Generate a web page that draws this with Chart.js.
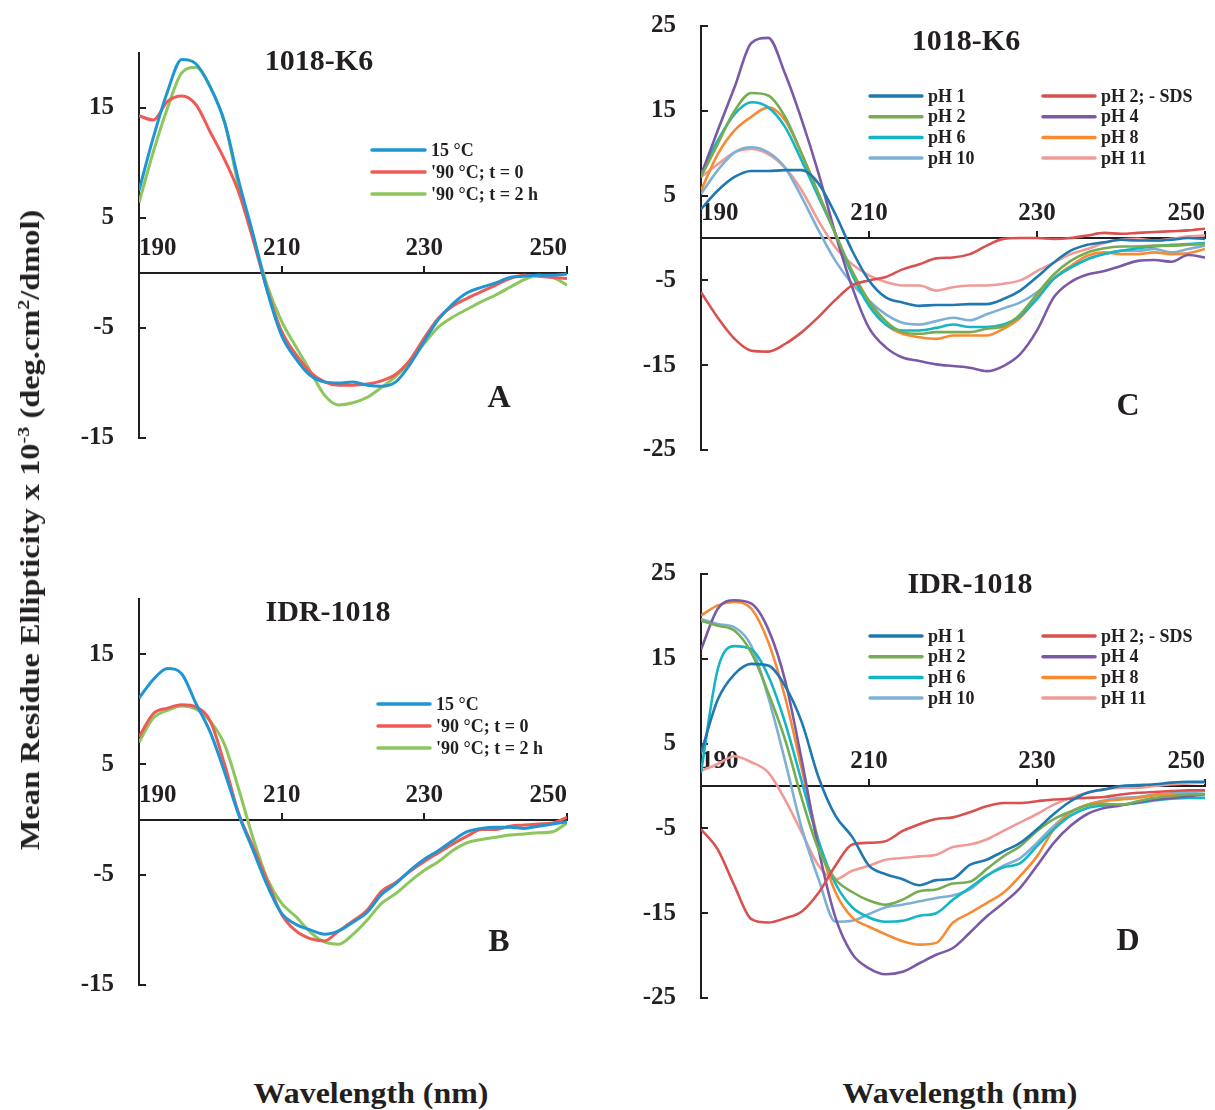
<!DOCTYPE html>
<html>
<head>
<meta charset="utf-8">
<script src="https://cdn.jsdelivr.net/npm/chart.js@4.4.1/dist/chart.umd.min.js"></script>
<style>
  body { margin: 0; background: #fff; width: 1215px; height: 1110px; position: relative; overflow: hidden; }
  canvas { position: absolute; }
  .lbl { position: absolute; font-family: "Liberation Serif", "Times New Roman", serif; font-weight: bold; color: #231f20; white-space: nowrap; }
  .lbl sup { font-size: 0.62em; }
</style>
</head>
<body>
<canvas id="panelA" width="560" height="440" style="left:40px; top:20px;"></canvas>
<canvas id="panelB" width="560" height="440" style="left:40px; top:565px;"></canvas>
<canvas id="panelC" width="615" height="470" style="left:600px; top:0px;"></canvas>
<canvas id="panelD" width="615" height="480" style="left:600px; top:540px;"></canvas>

<div class="lbl" style="left:30px; top:530px; font-size:27px; transform:translate(-50%,-50%) rotate(-90deg) scaleX(1.2);">Mean Residue Ellipticity x 10<sup>-3</sup> (deg.cm<sup>2</sup>/dmol)</div>
<div class="lbl" style="left:371px; top:1093px; font-size:29px; transform:translate(-50%,-50%) scaleX(1.1);">Wavelength (nm)</div>
<div class="lbl" style="left:960px; top:1093px; font-size:29px; transform:translate(-50%,-50%) scaleX(1.1);">Wavelength (nm)</div>

<script>
const INK = '#231f20';
const FONT = '"Liberation Serif", "Times New Roman", serif';

// wavelength (nm)
const wavelength = [190,192,194,196,198,200,202,204,206,208,210,212,214,216,218,220,
  222,224,226,228,230,232,234,236,238,240,242,244,246,248,250];
const xTicks = [190, 210, 230, 250];
const yTicksAB = [-15, -5, 5, 15];
const yTicksCD = [-25, -15, -5, 5, 15, 25];

// A: 1018-K6, temperature
const A_15C   = [7.5,12.3,16.5,19.4,19.0,16.9,13.7,8.3,3.5,-1.7,-5.7,-7.8,-9.3,-9.9,-10.0,-9.9,-10.2,-10.3,-9.9,-8.3,-6.2,-4.2,-2.8,-1.8,-1.3,-0.9,-0.4,-0.3,-0.2,-0.2,-0.1];
const A_90C_0 = [14.3,13.9,15.6,16.1,15.3,12.8,10.3,7.3,3.0,-1.6,-5.3,-7.4,-9.0,-9.9,-10.2,-10.2,-10.1,-9.8,-9.2,-7.9,-5.9,-4.1,-3.0,-2.3,-1.7,-1.1,-0.5,-0.2,-0.3,-0.4,-0.5];
const A_90C_2 = [6.4,11.0,15.0,18.2,18.7,16.9,13.7,7.8,3.3,-1.2,-4.4,-6.7,-8.9,-11.1,-12.0,-11.8,-11.3,-10.4,-9.4,-8.1,-6.4,-4.9,-4.0,-3.3,-2.6,-2.0,-1.3,-0.6,-0.2,-0.4,-1.1];

// B: IDR-1018, temperature
const B_15C   = [11.0,12.7,13.7,13.2,10.5,7.9,4.3,0.4,-2.8,-6.0,-8.5,-9.5,-10.0,-10.4,-10.1,-9.3,-8.4,-6.8,-5.8,-4.6,-3.6,-2.8,-1.9,-1.1,-0.8,-0.7,-0.7,-0.8,-0.6,-0.4,-0.2];
const B_90C_0 = [7.5,9.6,10.1,10.4,10.2,8.9,5.0,0.5,-2.5,-5.6,-8.6,-10.1,-10.8,-11.0,-10.1,-9.2,-8.2,-6.5,-5.7,-4.7,-3.8,-3.0,-2.2,-1.5,-0.9,-0.9,-0.6,-0.5,-0.4,-0.3,0.2];
const B_90C_2 = [7.0,9.2,9.9,10.3,10.0,8.9,6.8,2.7,-1.7,-5.4,-7.6,-8.8,-10.2,-11.1,-11.3,-10.4,-9.1,-7.6,-6.7,-5.6,-4.6,-3.8,-2.8,-2.1,-1.8,-1.6,-1.4,-1.3,-1.2,-1.1,-0.3];

// C: 1018-K6, pH
const C_pH1    = [3.4,5.6,7.2,7.9,7.9,8.0,8.0,6.4,2.8,-1.5,-5.0,-7.0,-7.6,-8.0,-7.9,-7.9,-7.8,-7.8,-7.2,-6.2,-4.6,-2.9,-1.5,-0.8,-0.5,-0.2,-0.3,-0.3,-0.2,0,-0.1];
const C_pH2SDS = [-6.4,-9.4,-11.9,-13.3,-13.4,-12.5,-11.1,-9.3,-7.3,-5.6,-5.0,-4.6,-3.7,-3.1,-2.4,-2.3,-1.9,-0.9,-0.1,0,0,-0.1,0,0.3,0.6,0.5,0.6,0.7,0.8,0.9,1.1];
const C_pH2    = [7.2,11.1,15.0,17.1,16.8,14.3,9.9,5.2,0.5,-3.9,-7.4,-9.8,-11.1,-11.3,-11.1,-11.1,-11.1,-10.7,-10.4,-9.0,-6.6,-4.3,-2.7,-1.7,-1.2,-1.0,-1.0,-0.9,-0.9,-0.8,-0.7];
const C_pH4    = [7.4,12.7,17.8,23.0,23.6,19.4,13.9,7.6,0.5,-5.8,-10.6,-12.9,-14.1,-14.5,-14.9,-15.1,-15.3,-15.7,-15.1,-13.7,-10.9,-7.0,-5.2,-4.3,-3.9,-3.3,-2.7,-2.6,-2.8,-2.0,-2.3];
const C_pH6    = [7.6,11.5,14.6,16.0,15.4,13.1,9.1,4.8,0.5,-4.3,-8.0,-10.2,-10.9,-10.9,-10.6,-10.2,-10.5,-10.5,-10.2,-9.2,-7.2,-4.8,-3.5,-2.5,-1.9,-1.5,-1.2,-1.0,-0.8,-0.7,-0.6];
const C_pH8    = [5.6,9.9,12.7,14.3,15.4,13.9,9.9,5.2,0.5,-4.3,-7.8,-10.2,-11.3,-11.7,-11.9,-11.5,-11.5,-11.5,-10.7,-9.4,-7.0,-4.8,-3.3,-2.1,-1.7,-1.9,-1.9,-1.7,-1.9,-1.8,-1.3];
const C_pH10   = [5.2,8.0,10.1,10.7,10.1,8.3,4.8,0.9,-2.7,-5.4,-7.4,-9.0,-10.0,-10.2,-9.8,-9.4,-9.7,-9.0,-8.3,-7.6,-6.4,-4.8,-3.5,-2.5,-1.9,-1.5,-1.5,-1.3,-1.7,-1.3,-0.9];
const C_pH11   = [7.2,8.7,10.1,10.5,9.9,8.3,5.6,2.0,-1.1,-3.1,-4.4,-5.2,-5.6,-5.6,-6.2,-5.8,-5.6,-5.6,-5.4,-5.0,-3.9,-2.9,-1.9,-1.3,-0.6,-0.2,-0.1,-0.3,-0.1,0.2,0.3];

// D: IDR-1018, pH
const D_pH1    = [3.9,10.2,13.2,14.4,14.2,11.8,7.5,1.0,-3.5,-6.0,-9.4,-10.4,-11.0,-11.7,-11.1,-10.9,-9.3,-8.7,-7.7,-6.7,-5.1,-3.3,-1.8,-0.8,-0.4,0,0.1,0.2,0.4,0.5,0.5];
const D_pH2SDS = [-5.1,-7.5,-11.8,-15.7,-16.1,-15.6,-14.8,-12.6,-9.4,-6.9,-6.7,-6.5,-5.3,-4.5,-3.9,-3.7,-3.1,-2.4,-2.0,-2.0,-1.8,-1.6,-1.5,-1.4,-1.3,-1.0,-0.8,-0.7,-0.6,-0.5,-0.5];
const D_pH2    = [19.5,18.9,18.3,15.7,11.0,5.5,-1.5,-7.5,-11.0,-12.5,-13.5,-14.0,-13.4,-12.4,-12.2,-11.5,-11.3,-9.8,-8.3,-7.1,-5.3,-3.9,-3.0,-2.3,-2.1,-2.2,-1.8,-1.4,-1.2,-1.0,-1.0];
const D_pH4    = [16.1,20.9,21.9,21.5,18.5,12.5,3.0,-7.5,-15.5,-19.8,-21.5,-22.2,-21.9,-20.9,-19.9,-19.1,-17.3,-15.4,-13.8,-12.0,-9.4,-6.7,-4.7,-3.3,-2.6,-2.3,-1.9,-1.6,-1.4,-1.2,-1.0];
const D_pH6    = [1.6,13.8,16.5,16.1,13.0,7.5,0.5,-6.5,-11.5,-14.3,-15.5,-16.0,-15.9,-15.3,-15.0,-13.4,-12.0,-10.6,-9.6,-9.1,-7.1,-5.1,-3.5,-2.6,-2.3,-2.2,-2.0,-1.7,-1.5,-1.4,-1.4];
const D_pH8    = [20.1,21.3,21.7,20.9,17.0,10.5,2.0,-6.5,-12.5,-15.5,-16.6,-17.5,-18.3,-18.7,-18.5,-16.1,-15.0,-13.8,-12.6,-10.6,-8.3,-5.1,-3.1,-2.2,-1.8,-1.6,-1.4,-1.1,-1.0,-1.0,-1.0];
const D_pH10   = [19.7,19.1,18.7,16.5,10.5,3.0,-5.0,-11.0,-16.0,-15.9,-15.1,-14.3,-14.0,-13.6,-13.2,-12.9,-12.2,-10.6,-9.4,-8.5,-6.7,-4.7,-3.1,-2.2,-1.7,-1.4,-1.3,-1.0,-0.9,-0.7,-0.6];
const D_pH11   = [1.8,2.6,3.5,2.8,1.6,-1.6,-5.5,-9.4,-11.0,-10.0,-9.4,-8.7,-8.5,-8.3,-8.1,-7.2,-6.9,-6.3,-5.3,-4.3,-3.3,-2.2,-1.4,-0.8,-0.4,-0.2,-0.2,0,0.2,0.3,0.4];

const tempLabels = ['15 \u00b0C', "'90 \u00b0C; t = 0", "'90 \u00b0C; t = 2 h"];
const tempColors = ['#1f96d3', '#f05a55', '#8cc65c'];
// legend order is row by row (two columns)
const phLabels = ['pH 1', 'pH 2; - SDS', 'pH 2', 'pH 4', 'pH 6', 'pH 8', 'pH 10', 'pH 11'];
const phColors = ['#1f78b0', '#d9514e', '#77ad52', '#7a5aa6', '#14b5c4', '#f68b34', '#7eb0d6', '#f09b98'];

// titles, panel letters and legend drawn on top of each chart
const panelDecor = {
  id: 'panelDecor',
  afterDraw(chart, args, o) {
    const ctx = chart.ctx;
    ctx.save();
    ctx.fillStyle = INK;
    ctx.textAlign = 'center';
    ctx.textBaseline = 'middle';
    ctx.font = 'bold 30px ' + FONT;
    ctx.fillText(o.title, o.titleX, o.titleY);
    ctx.font = 'bold 32px ' + FONT;
    ctx.fillText(o.letter, o.letterX, o.letterY);

    ctx.font = 'bold ' + o.legendFont + 'px ' + FONT;
    ctx.textAlign = 'left';
    chart.data.datasets.forEach((ds, i) => {
      const col = i % o.cols, row = Math.floor(i / o.cols);
      const x = o.legendX + col * o.colGap;
      const y = o.legendY + row * o.rowGap;
      ctx.strokeStyle = ds.borderColor;
      ctx.lineWidth = 3.5;
      ctx.lineCap = 'round';
      ctx.beginPath();
      ctx.moveTo(x, y);
      ctx.lineTo(x + o.lineLen, y);
      ctx.stroke();
      ctx.fillText(ds.label, x + o.lineLen + 6, y + 1);
    });
    ctx.restore();
  }
};

function makePanel(id, series, labels, colors, cfg) {
  const datasets = series.map((vals, i) => ({
    label: labels[i],
    data: wavelength.map((w, j) => ({ x: w, y: vals[j] })),
    borderColor: colors[i],
    borderWidth: cfg.lineWidth,
    pointRadius: 0,
    cubicInterpolationMode: 'monotone',
    fill: false
  }));

  new Chart(document.getElementById(id), {
    type: 'line',
    data: { datasets: datasets },
    plugins: [panelDecor],
    options: {
      responsive: false,
      animation: false,
      events: [],
      layout: { padding: cfg.padding },
      plugins: {
        legend: { display: false },
        tooltip: { enabled: false },
        panelDecor: cfg.decor
      },
      scales: {
        x: {
          type: 'linear',
          min: 190,
          max: 250,
          position: { y: 0 },
          afterBuildTicks: s => { s.ticks = xTicks.map(v => ({ value: v })); },
          grid: { drawOnChartArea: false, tickLength: -8, color: INK, lineWidth: 2 },
          border: { color: INK, width: 2 },
          ticks: { align: 'inner', padding: -31, maxRotation: 0, autoSkip: false, color: INK,
                   font: { family: FONT, size: 25, weight: 'bold' } }
        },
        y: {
          type: 'linear',
          min: cfg.yMin,
          max: cfg.yMax,
          afterBuildTicks: s => { s.ticks = cfg.yTicks.map(v => ({ value: v })); },
          // fixed axis width, and no extra top/bottom room for the labels
          afterFit: s => { s.width = cfg.yWidth; s.paddingTop = 0; s.paddingBottom = 0; },
          grid: { drawOnChartArea: false, tickLength: -7, color: INK, lineWidth: 2 },
          border: { color: INK, width: 2 },
          ticks: { padding: 32, color: INK, font: { family: FONT, size: 25, weight: 'bold' } }
        }
      }
    }
  });
}

makePanel('panelA', [A_15C, A_90C_0, A_90C_2], tempLabels, tempColors, {
  lineWidth: 3, yMin: -15, yMax: 20, yTicks: yTicksAB, yWidth: 99,
  padding: { top: 33, right: 33, bottom: 22, left: 0 },
  decor: { title: '1018-K6', titleX: 279, titleY: 42, letter: 'A', letterX: 459, letterY: 379,
           legendX: 332, legendY: 130, rowGap: 22, colGap: 0, cols: 1, lineLen: 53, legendFont: 18 }
});

makePanel('panelB', [B_15C, B_90C_0, B_90C_2], tempLabels, tempColors, {
  lineWidth: 3, yMin: -15, yMax: 20, yTicks: yTicksAB, yWidth: 99,
  padding: { top: 34, right: 33, bottom: 20, left: 0 },
  decor: { title: 'IDR-1018', titleX: 288, titleY: 48, letter: 'B', letterX: 459, letterY: 378,
           legendX: 338, legendY: 139, rowGap: 22, colGap: 0, cols: 1, lineLen: 52, legendFont: 18 }
});

makePanel('panelC', [C_pH1, C_pH2SDS, C_pH2, C_pH4, C_pH6, C_pH8, C_pH10, C_pH11], phLabels, phColors, {
  lineWidth: 2.6, yMin: -25, yMax: 25, yTicks: yTicksCD, yWidth: 101,
  padding: { top: 26, right: 10, bottom: 20, left: 0 },
  decor: { title: '1018-K6', titleX: 366, titleY: 42, letter: 'C', letterX: 528, letterY: 407,
           legendX: 270, legendY: 96, rowGap: 20.7, colGap: 173, cols: 2, lineLen: 52, legendFont: 18 }
});

makePanel('panelD', [D_pH1, D_pH2SDS, D_pH2, D_pH4, D_pH6, D_pH8, D_pH10, D_pH11], phLabels, phColors, {
  lineWidth: 2.6, yMin: -25, yMax: 25, yTicks: yTicksCD, yWidth: 101,
  padding: { top: 34, right: 10, bottom: 22, left: 0 },
  decor: { title: 'IDR-1018', titleX: 370, titleY: 45, letter: 'D', letterX: 528, letterY: 402,
           legendX: 270, legendY: 96, rowGap: 20.7, colGap: 173, cols: 2, lineLen: 52, legendFont: 18 }
});
</script>
</body>
</html>
